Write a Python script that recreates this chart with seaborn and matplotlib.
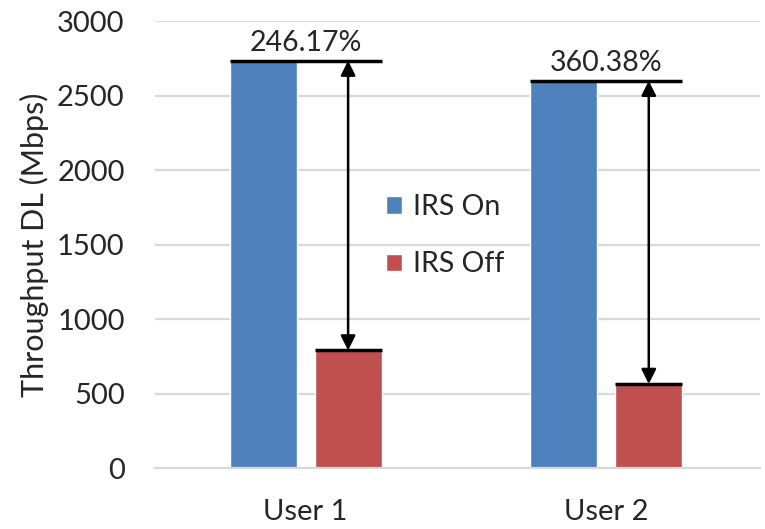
import pandas as pd
import matplotlib
matplotlib.use("Agg")
import matplotlib.pyplot as plt
import seaborn as sns

# -----------------------------
# Data
# -----------------------------
users = ["User 1", "User 2"]
irs_on = [2735, 2600]
irs_off = [790, 565]
gain_labels = ["246.17%", "360.38%"]

df = pd.DataFrame({
    "user": users * 2,
    "mode": ["IRS On"] * len(users) + ["IRS Off"] * len(users),
    "throughput": irs_on + irs_off,
})

sns.set_style("white")
plt.rcParams["font.family"] = ["Lato", "DejaVu Sans"]

fig = plt.figure(figsize=(7.65, 5.29), dpi=100)
ax = fig.add_axes([0.203, 0.115, 0.79, 0.845])

sns.barplot(
    data=df,
    x="user",
    y="throughput",
    hue="mode",
    palette=["#4F81BD", "#C0504D"],
    width=0.565,
    gap=0.21,
    saturation=1,
    ax=ax,
    zorder=2,
)

ax.set_ylim(0, 3000)
ax.set_xlim(-0.5, 1.51)
ax.set_yticks(range(0, 3001, 500))
ax.yaxis.grid(True, color="#d9d9d9", linewidth=1.6, zorder=0)
ax.set_axisbelow(True)
for s in ["top", "right", "left"]:
    ax.spines[s].set_visible(False)
ax.spines["bottom"].set_color("#d9d9d9")
ax.spines["bottom"].set_linewidth(1.6)
ax.tick_params(axis="both", length=0, labelsize=21)
ax.tick_params(axis="y", pad=22)
ax.tick_params(axis="x", pad=22)
ax.set_xlabel("")
ax.set_ylabel("Throughput DL (Mbps)", fontsize=22, labelpad=6)

# bars: first hue level patches, then second
on_bars = ax.patches[:len(users)]
off_bars = ax.patches[len(users):2 * len(users)]

for i, (b_on, b_off) in enumerate(zip(on_bars, off_bars)):
    top = b_on.get_height()
    low = b_off.get_height()
    x_mid = b_off.get_x() + b_off.get_width() / 2
    ax.plot([b_on.get_x(), b_off.get_x() + b_off.get_width()], [top, top],
            color="black", linewidth=2.5, zorder=3, solid_capstyle="butt")
    ax.plot([b_off.get_x(), b_off.get_x() + b_off.get_width()], [low, low],
            color="black", linewidth=2.5, zorder=3, solid_capstyle="butt")
    ax.annotate("", xy=(x_mid, top), xytext=(x_mid, low),
                arrowprops=dict(arrowstyle="<|-|>", color="black", lw=1.8,
                                mutation_scale=22, shrinkA=0, shrinkB=0),
                zorder=4)
    ax.text(i, top + 30, gain_labels[i], ha="center", va="bottom", fontsize=20.5)

ax.legend(
    frameon=False,
    loc="center",
    bbox_to_anchor=(0.48, 0.52),
    fontsize=20.5,
    handlelength=0.55,
    handleheight=0.55,
    handletextpad=0.4,
    labelspacing=1.1,
)

plt.savefig("out.png", dpi=100)
plt.close()
